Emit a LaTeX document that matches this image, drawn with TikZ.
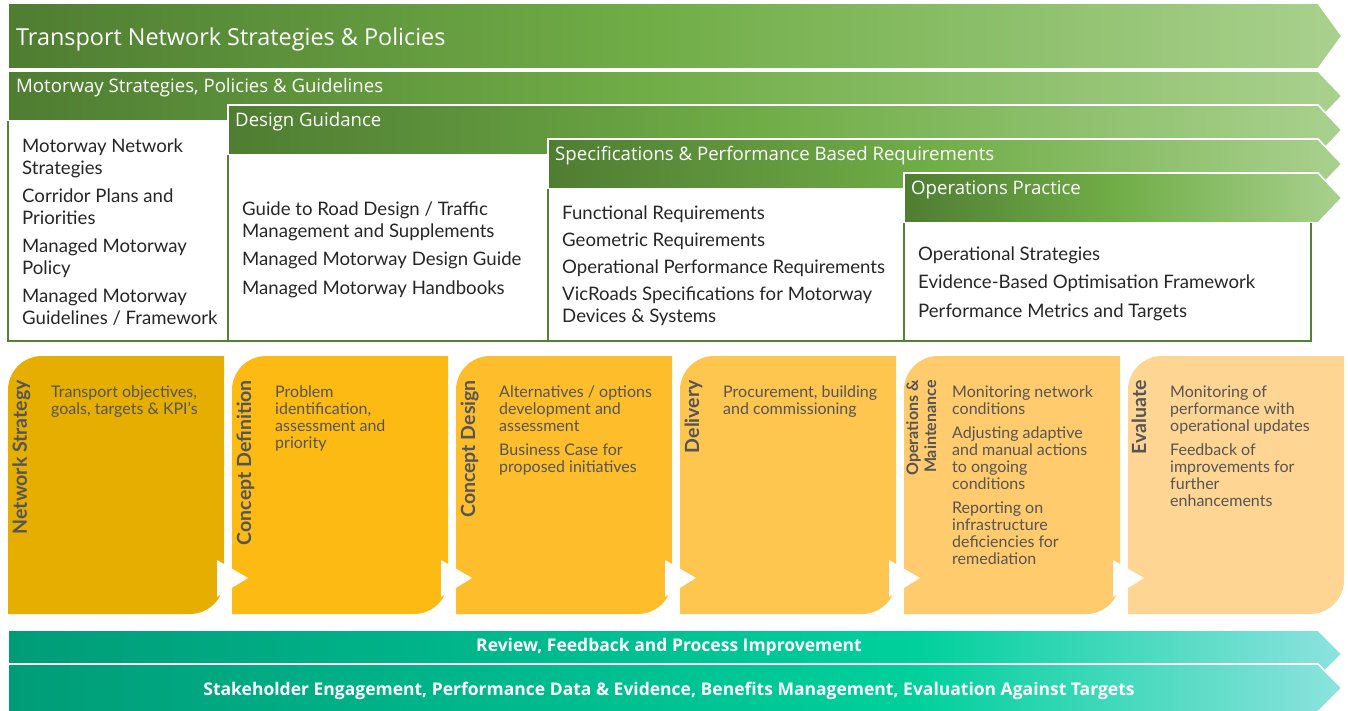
\documentclass[tikz,border=0pt]{standalone}
\usepackage{fontspec}
\setmainfont{Lato}
\newfontfamily\barfont{Open Sans}

\definecolor{gdark}{HTML}{4F7D32}
\definecolor{gmid}{HTML}{70AD47}
\definecolor{glight}{HTML}{A9D18E}
\definecolor{gline}{HTML}{548235}
\definecolor{tdark}{HTML}{009C78}
\definecolor{tmid}{HTML}{00D09C}
\definecolor{tlight}{HTML}{8DE3DF}
\definecolor{stageA}{HTML}{E6AE00}
\definecolor{stageB}{HTML}{FDBA12}
\definecolor{stageC}{HTML}{FEBE2C}
\definecolor{stageD}{HTML}{FEC54F}
\definecolor{stageE}{HTML}{FFCB6C}
\definecolor{stageF}{HTML}{FFD594}
\definecolor{stagetxt}{HTML}{555555}
\definecolor{boxtxt}{HTML}{262626}

\pgfdeclarehorizontalshading{greenband}{100bp}{color(0bp)=(gdark); color(25bp)=(gdark); color(49bp)=(gmid); color(75bp)=(glight); color(100bp)=(glight)}
\pgfdeclarehorizontalshading{tealband}{100bp}{color(0bp)=(tdark); color(25bp)=(tdark); color(59bp)=(tmid); color(75bp)=(tlight); color(100bp)=(tlight)}

\tikzset{
  band/.style={shading=greenband, draw=white, line width=1.6pt},
  tband/.style={shading=tealband, draw=white, line width=1.6pt},
  bandlabel/.style={anchor=base west, inner sep=0, text=white, font=\barfont\fontsize{18.6}{21}\selectfont},
  tbandlabel/.style={anchor=base, inner sep=0, text=white, font=\barfont\bfseries\fontsize{17.5}{20}\selectfont},
  boxline/.style={draw=gline, line width=1.3pt},
  boxtext/.style={anchor=north west, inner sep=0, align=left, text=boxtxt, font=\fontsize{18.6}{22}\selectfont},
  stagetitle/.style={rotate=90, anchor=base east, inner sep=0, text=stagetxt, font=\bfseries\fontsize{19.5}{19.5}\selectfont},
  stagetext/.style={anchor=north west, inner sep=0, align=left, text=stagetxt, font=\fontsize{16}{17}\selectfont},
}

\begin{document}
\begin{tikzpicture}[x=1pt, y=-1pt]
  \useasboundingbox (0,0) rectangle (1348,710);
  %
  % green bands, top to bottom
  \shadedraw[band] (8,3) -- (1318,3) -- (1342,36) -- (1318,69) -- (8,69) -- cycle;
  \shadedraw[band] (8,71) -- (1318,71) -- (1342,96) -- (1318,121) -- (8,121) -- cycle;
  \shadedraw[band] (228,105) -- (1318,105) -- (1342,130) -- (1318,155) -- (228,155) -- cycle;
  \shadedraw[band] (548,139) -- (1318,139) -- (1342,164) -- (1318,189) -- (548,189) -- cycle;
  \shadedraw[band] (904,173) -- (1318,173) -- (1342,198) -- (1318,223) -- (904,223) -- cycle;
  %
  \node[bandlabel, font=\barfont\fontsize{23.4}{26}\selectfont] (transport) at (16,45) {Transport Network Strategies \& Policies};
  \node[bandlabel] (motorway) at (16,92) {Motorway Strategies, Policies \& Guidelines};
  \node[bandlabel] (design) at (235,126) {Design Guidance};
  \node[bandlabel] (specs) at (555,160) {Specifications \& Performance Based Requirements};
  \node[bandlabel] (opspractice) at (911,194) {Operations Practice};
  %
  % boxes under the bands
  \draw[boxline] (8,121) -- (8,341) -- (1311,341) -- (1311,223);
  \draw[boxline] (228,155) -- (228,341);
  \draw[boxline] (548,189) -- (548,341);
  \draw[boxline] (904,223) -- (904,341);
  %
  \node[boxtext] (motorwaylist) at (22,138.5) {Motorway Network\\Strategies\\[6pt]Corridor Plans and\\Priorities\\[6pt]Managed Motorway\\Policy\\[6pt]Managed Motorway\\Guidelines / Framework};
  \node[boxtext] (designlist) at (242,201.5) {Guide to Road Design / Traffic\\Management and Supplements\\[6.5pt]Managed Motorway Design Guide\\[6.5pt]Managed Motorway Handbooks};
  \node[boxtext] (specslist) at (562,205.5) {Functional Requirements\\[5.5pt]Geometric Requirements\\[5pt]Operational Performance Requirements\\[5pt]VicRoads Specifications for Motorway\\Devices \& Systems};
  \node[boxtext] (opslist) at (918,246.5) {Operational Strategies\\[6.5pt]Evidence-Based Optimisation Framework\\[6.5pt]Performance Metrics and Targets};
  %
  % stages
  \foreach \x/\c in {8/stageA, 232/stageB, 456/stageC, 680/stageD, 904/stageE, 1128/stageF}
    \fill[\c] (\x,614) -- (\x,390) arc[start angle=180, end angle=270, radius=34]
      -- ({\x+216},356) -- ({\x+216},580) arc[start angle=0, end angle=90, radius=34] -- cycle;
  \foreach \x in {217,441,665,889,1113}
    \fill[white] (\x,560) -- ({\x+31},578) -- (\x,597) -- cycle;
  %
  \node[stagetitle] (strategy) at (27,380) {Network Strategy};
  \node[stagetitle] (definition) at (251,380) {Concept Definition};
  \node[stagetitle] (conceptdesign) at (475,380) {Concept Design};
  \node[stagetitle] (delivery) at (699,380) {Delivery};
  \node[stagetitle, font=\bfseries\fontsize{16}{16}\selectfont] (operations) at (918,380) {Operations \&};
  \node[stagetitle, font=\bfseries\fontsize{16}{16}\selectfont] (maintenance) at (936,380) {Maintenance};
  \node[stagetitle] (evaluate) at (1146,380) {Evaluate};
  %
  \node[stagetext] (strategytext) at (51,386) {Transport objectives,\\goals, targets \& KPI's};
  \node[stagetext] (definitiontext) at (275,386) {Problem\\identification,\\assessment and\\priority};
  \node[stagetext] (designtext) at (499,386) {Alternatives / options\\development and\\assessment\\[7pt]Business Case for\\proposed initiatives};
  \node[stagetext] (deliverytext) at (723,386) {Procurement, building\\and commissioning};
  \node[stagetext] (operationstext) at (952,386) {Monitoring network\\conditions\\[7pt]Adjusting adaptive\\and manual actions\\to ongoing\\conditions\\[7pt]Reporting on\\infrastructure\\deficiencies for\\remediation};
  \node[stagetext] (evaluatetext) at (1170,386) {Monitoring of\\performance with\\operational updates\\[7pt]Feedback of\\improvements for\\further\\enhancements};
  %
  % teal bands
  \shadedraw[tband] (8,630) -- (1318,630) -- (1342,654) -- (1318,678) -- (8,678) -- cycle;
  \shadedraw[tband] (8,664) -- (1318,664) -- (1342,688) -- (1318,712) -- (8,712) -- cycle;
  %
  \node[tbandlabel] (review) at (669,651) {Review, Feedback and Process Improvement};
  \node[tbandlabel] (stakeholder) at (669,695) {Stakeholder Engagement, Performance Data \& Evidence, Benefits Management, Evaluation Against Targets};
\end{tikzpicture}
\end{document}
